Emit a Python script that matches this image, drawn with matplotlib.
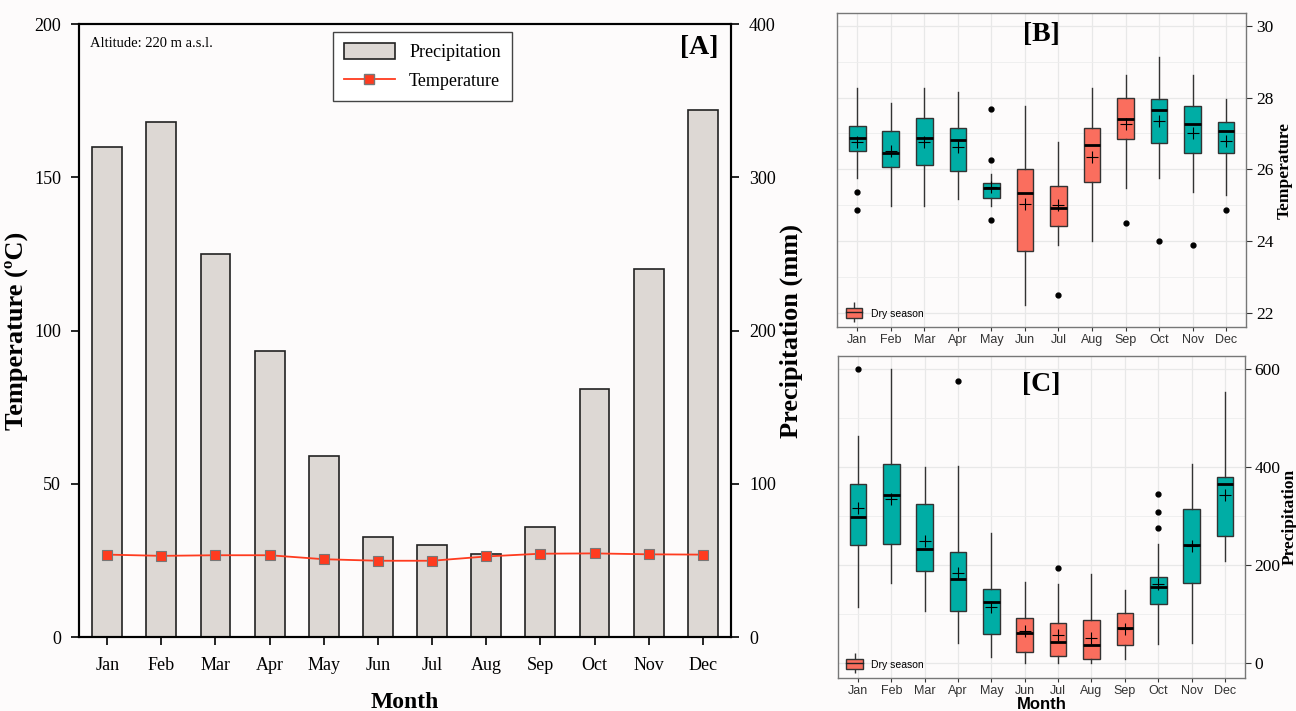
import matplotlib.pyplot as plt
from matplotlib.patches import Patch
from matplotlib.lines import Line2D

months = ['Jan', 'Feb', 'Mar', 'Apr', 'May', 'Jun', 'Jul', 'Aug', 'Sep', 'Oct', 'Nov', 'Dec']
dry_months = ['Jun', 'Jul', 'Aug', 'Sep']

# panel A: monthly means
precip_mm = [320, 336, 250, 187, 118, 65, 60, 54, 72, 162, 240, 344]
temp_c = [26.9, 26.5, 26.7, 26.7, 25.4, 24.9, 24.9, 26.3, 27.2, 27.3, 27.0, 26.9]

# panel B: temperature boxplots
t_lo = [25.77, 24.97, 24.97, 25.18, 24.97, 22.21, 23.90, 24.00, 25.48, 25.77, 25.37, 25.28]
t_q1 = [26.51, 26.07, 26.12, 25.94, 25.21, 23.72, 24.42, 25.65, 26.84, 26.74, 26.46, 26.46]
t_med = [26.88, 26.46, 26.88, 26.82, 25.47, 25.33, 24.93, 26.67, 27.41, 27.66, 27.26, 27.07]
t_q3 = [27.22, 27.06, 27.42, 27.14, 25.62, 26.01, 25.54, 27.16, 27.98, 27.95, 27.76, 27.31]
t_hi = [28.26, 27.86, 28.26, 28.17, 25.87, 27.77, 26.76, 28.26, 28.62, 29.13, 28.62, 27.96]
t_mean = [26.77, 26.52, 26.77, 26.63, 25.51, 25.03, 25.01, 26.35, 27.27, 27.34, 27.02, 26.78]
t_out = [[25.37, 24.87], [], [], [], [27.67, 26.27, 24.58], [], [22.49], [], [24.49], [23.99], [23.89], [24.87]]

# panel C: precipitation boxplots
p_lo = [114, 162, 106, 41, 11, 0, 0, 0, 8, 38, 41, 207]
p_q1 = [240, 242, 187, 106, 58, 22, 14, 7, 37, 120, 162, 259]
p_med = [298, 342, 233, 171, 124, 61, 42, 37, 71, 154, 240, 365]
p_q3 = [365, 407, 324, 227, 151, 92, 82, 88, 102, 175, 314, 380]
p_hi = [464, 600, 400, 403, 265, 164, 161, 181, 148, 243, 406, 554]
p_mean = [317, 334, 248, 184, 114, 65, 57, 51, 68, 160, 238, 342]
p_out = [[601], [], [], [577], [], [], [193], [], [], [345, 309, 276], [], []]

teal = '#00ADA5'
salmon = '#FA6E5E'
bg = '#fdfbfb'
serif = 'Liberation Serif'
sans = 'Liberation Sans'

fig = plt.figure(figsize=(12.96, 7.11), dpi=100, facecolor=bg)

# ---------------- panel A ----------------
ax = fig.add_axes([0.061, 0.104, 0.503, 0.862])
ax2 = ax.twinx()
ax.set_zorder(ax2.get_zorder() + 1)
ax.patch.set_visible(False)
ax2.set_facecolor(bg)

x = list(range(12))
ax2.bar(x, precip_mm, width=0.55, color='#ddd8d4', edgecolor='#222222', linewidth=1.2)
ax.plot(x, temp_c, color='#ff3b1f', lw=1.3, marker='s', markersize=7,
        markerfacecolor='#ff3b1f', markeredgecolor='#777777', markeredgewidth=0.8)

ax.set_xlim(-0.52, 11.52)
ax.set_ylim(0, 200)
ax2.set_ylim(0, 400)
ax.set_yticks([0, 50, 100, 150, 200])
ax2.set_yticks([0, 100, 200, 300, 400])
ax.set_xticks(x)
ax.set_xticklabels(months)
for a in (ax, ax2):
    for s in a.spines.values():
        s.set_linewidth(1.5)
    a.tick_params(direction='out', length=6, width=1.2, labelsize=13, pad=7)
    for lab in a.get_xticklabels() + a.get_yticklabels():
        lab.set_fontfamily(serif)
ax.tick_params(axis='x', pad=8)

ax.set_ylabel('Temperature (ºC)', family=serif, fontsize=19, fontweight='bold', labelpad=4)
ax2.set_ylabel('Precipitation (mm)', family=serif, fontsize=19, fontweight='bold', labelpad=3)
ax.set_xlabel('Month', family=serif, fontsize=17, fontweight='bold', labelpad=13)

ax.text(0.017, 0.969, 'Altitude: 220 m a.s.l.', transform=ax.transAxes,
        family=serif, fontsize=10.5, va='center', ha='left')
ax.text(0.952, 0.962, '[A]', transform=ax.transAxes, family=serif,
        fontsize=20, fontweight='bold', va='center', ha='center')

handles = [Patch(facecolor='#ddd8d4', edgecolor='#222222', linewidth=1.2),
           Line2D([], [], color='#ff3b1f', lw=1.3, marker='s', markersize=7,
                  markerfacecolor='#ff3b1f', markeredgecolor='#777777')]
leg = ax.legend(handles, ['Precipitation', 'Temperature'], loc='upper left',
                bbox_to_anchor=(0.39, 0.987), borderaxespad=0, fancybox=False,
                framealpha=1, edgecolor='#444444', prop={'family': serif, 'size': 13},
                handlelength=2.8, handleheight=1.0, labelspacing=0.6, borderpad=0.6)
leg.get_frame().set_linewidth(1.0)


def box_panel(a, lo, q1, med, q3, hi, mean, out):
    stats = []
    for i in range(12):
        stats.append(dict(whislo=lo[i], q1=q1[i], med=med[i], q3=q3[i],
                          whishi=hi[i], mean=mean[i], fliers=out[i]))
    bp = a.bxp(stats, positions=list(range(12)), widths=0.5, patch_artist=True,
               showmeans=True, showcaps=False,
               boxprops=dict(edgecolor='#333333', linewidth=1),
               whiskerprops=dict(color='#333333', linewidth=1),
               medianprops=dict(color='black', linewidth=2),
               meanprops=dict(marker='+', markeredgecolor='black', markersize=9,
                              markeredgewidth=0.8),
               flierprops=dict(marker='o', markerfacecolor='black',
                               markeredgecolor='black', markersize=3.5))
    for m, box in zip(months, bp['boxes']):
        box.set_facecolor(salmon if m in dry_months else teal)
    a.set_xlim(-0.6, 11.6)
    a.set_xticks(range(12))
    a.set_xticklabels(months, family=sans, fontsize=9, color='#333333')
    a.set_axisbelow(True)
    a.set_facecolor(bg)
    a.grid(True, which='major', color='#e8e8e8', linewidth=0.9)
    a.grid(True, which='minor', axis='y', color='#ededed', linewidth=0.6)
    a.yaxis.tick_right()
    a.yaxis.set_label_position('right')
    a.tick_params(axis='y', which='major', labelsize=12.5, colors='#333333',
                  labelcolor='black', length=4, pad=3)
    a.tick_params(axis='y', which='minor', length=0)
    a.tick_params(axis='x', length=3, colors='#333333', pad=2)
    for lab in a.get_yticklabels():
        lab.set_fontfamily(serif)
    for s in a.spines.values():
        s.set_color('#777777')
        s.set_linewidth(1)
    key = (Line2D([], [], marker='|', markersize=14, color='#333333', linestyle='none'),
           Patch(facecolor=salmon, edgecolor='#333333'),
           Line2D([], [], color='#222222', lw=1))
    a.legend([key], ['Dry season'], loc='lower left', frameon=False,
             prop={'family': sans, 'size': 7.5}, handlelength=1.6, handleheight=1.1,
             borderaxespad=0.6, borderpad=0.2)


# ---------------- panel B ----------------
axb = fig.add_axes([0.646, 0.540, 0.3156, 0.4417])
box_panel(axb, t_lo, t_q1, t_med, t_q3, t_hi, t_mean, t_out)
axb.set_ylim(21.6, 30.36)
axb.set_yticks([22, 24, 26, 28, 30])
axb.set_yticks([23, 25, 27, 29], minor=True)
axb.set_ylabel('Temperature', family=serif, fontsize=12.5, fontweight='bold',
               rotation=90, labelpad=2)
axb.text(0.5, 0.93, '[B]', transform=axb.transAxes, family=serif, fontsize=20,
         fontweight='bold', ha='center', va='center')

# ---------------- panel C ----------------
axc = fig.add_axes([0.6466, 0.0464, 0.314, 0.4529])
box_panel(axc, p_lo, p_q1, p_med, p_q3, p_hi, p_mean, p_out)
axc.set_ylim(-31.4, 627.3)
axc.set_yticks([0, 200, 400, 600])
axc.set_yticks([100, 300, 500], minor=True)
axc.set_ylabel('Precipitation', family=serif, fontsize=12.5, fontweight='bold',
               rotation=90, labelpad=1)
axc.set_xlabel('Month', family=sans, fontsize=12, fontweight='bold', labelpad=0)
axc.text(0.5, 0.91, '[C]', transform=axc.transAxes, family=serif, fontsize=20,
         fontweight='bold', ha='center', va='center')

fig.savefig('out.png', dpi=100, facecolor=bg)
